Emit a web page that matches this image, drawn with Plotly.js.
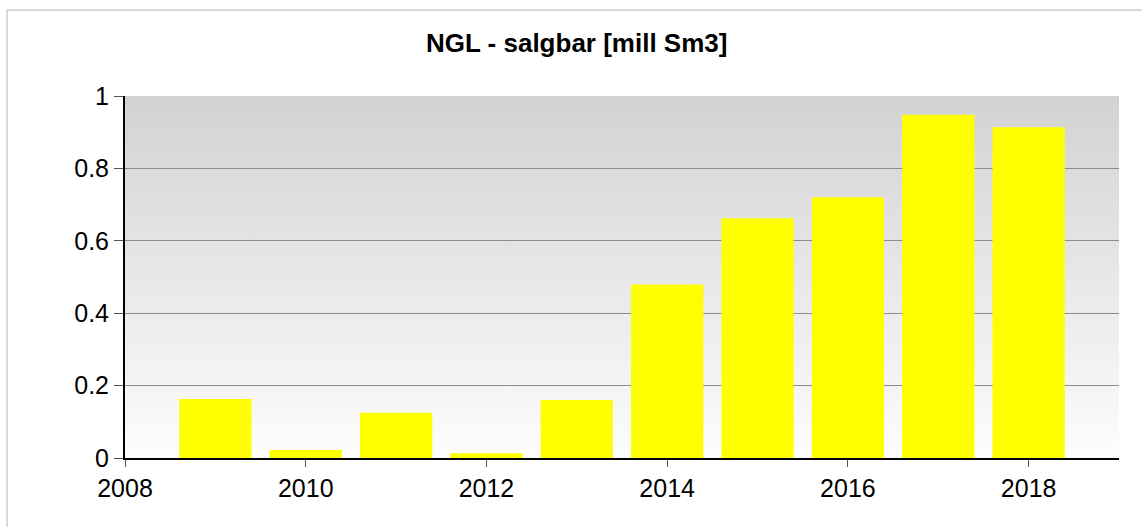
<!DOCTYPE html>
<html>
<head>
<meta charset="utf-8">
<script src="https://cdn.plot.ly/plotly-3.0.1.min.js"></script>
<style>html,body{margin:0;padding:0;background:#fff;}#chart{width:1142px;height:527px;}</style>
</head>
<body>
<div id="chart"></div>
<script>
const years = [2009, 2010, 2011, 2012, 2013, 2014, 2015, 2016, 2017, 2018];
const values = [0.163, 0.022, 0.125, 0.013, 0.16, 0.479, 0.662, 0.72, 0.948, 0.914];
const xTicks = [2008, 2010, 2012, 2014, 2016, 2018];
const yTicks = [0, 0.2, 0.4, 0.6, 0.8, 1];

const gradSvg = '<svg xmlns="http://www.w3.org/2000/svg" width="10" height="100" preserveAspectRatio="none">' +
  '<defs><linearGradient id="g" x1="0" y1="0" x2="0" y2="1">' +
  '<stop offset="0" stop-color="#d2d2d2"/><stop offset="1" stop-color="#fdfdfd"/></linearGradient></defs>' +
  '<rect width="10" height="100" fill="url(#g)"/></svg>';
const gradUrl = 'data:image/svg+xml;base64,' + btoa(gradSvg);

const trace = {
  type: 'bar',
  x: years,
  y: values,
  width: 0.8,
  marker: {color: '#ffff00', line: {width: 0}},
  hoverinfo: 'x+y'
};

const layout = {
  width: 1142,
  height: 527,
  margin: {l: 125, r: 23, t: 96, b: 69},
  paper_bgcolor: '#ffffff',
  plot_bgcolor: 'rgba(0,0,0,0)',
  showlegend: false,
  title: {
    text: '<b>NGL - salgbar [mill Sm3]</b>',
    font: {family: 'Liberation Sans, Arial, sans-serif', size: 26, color: '#000'},
    xref: 'container', x: 0.505, xanchor: 'center',
    yref: 'container', y: 0.918, yanchor: 'middle'
  },
  xaxis: {
    range: [2008, 2019],
    tickvals: xTicks,
    ticktext: xTicks.map(String),
    ticks: 'outside', ticklen: 7, tickwidth: 1, tickcolor: '#555',
    showgrid: false, zeroline: false,
    showline: true, linecolor: '#000', linewidth: 2,
    tickfont: {family: 'Liberation Sans, Arial, sans-serif', size: 25, color: '#000'},
    fixedrange: true
  },
  yaxis: {
    range: [0, 1],
    tickvals: yTicks,
    ticktext: yTicks.map(String),
    ticks: 'outside', ticklen: 9, tickwidth: 1, tickcolor: '#555',
    showgrid: true, gridcolor: '#8c8c8c', gridwidth: 1,
    zeroline: false,
    showline: true, linecolor: '#000', linewidth: 2,
    tickfont: {family: 'Liberation Sans, Arial, sans-serif', size: 25, color: '#000'},
    fixedrange: true
  },
  images: [{
    source: gradUrl,
    xref: 'paper', yref: 'paper',
    x: 0, y: 1, sizex: 1, sizey: 1,
    xanchor: 'left', yanchor: 'top',
    sizing: 'stretch', layer: 'below'
  }],
  shapes: [{
    type: 'rect', xref: 'paper', yref: 'paper',
    x0: (7 - 125) / 994, x1: 1.05,
    y0: -0.3, y1: (458 - 10) / 362,
    line: {color: '#d9d9d9', width: 2},
    fillcolor: 'rgba(0,0,0,0)',
    layer: 'below'
  }]
};

Plotly.newPlot('chart', [trace], layout, {displayModeBar: false, staticPlot: true});
</script>
</body>
</html>
